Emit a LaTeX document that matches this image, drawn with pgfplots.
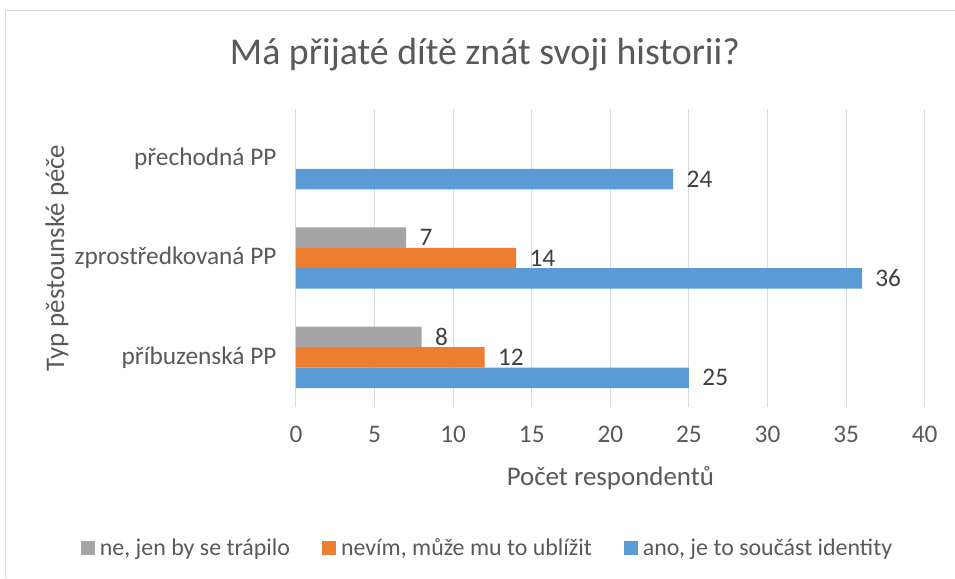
\documentclass[border=0pt]{standalone}
\usepackage{fontspec}
\setmainfont{Carlito}
\usepackage{pgfplots}
\pgfplotsset{compat=1.18}

\definecolor{cblue}{HTML}{5B9BD5}
\definecolor{corange}{HTML}{ED7D31}
\definecolor{cgray}{HTML}{A5A5A5}
\definecolor{gridgray}{HTML}{D9D9D9}
\definecolor{labgray}{HTML}{595959}
\definecolor{valgray}{HTML}{404040}

\begin{document}
\begin{tikzpicture}
\begin{axis}[
    scale only axis,
    width=628.7bp, height=298bp,
    xbar=0pt, bar width=0.206,
    xmin=0, xmax=40, ymin=-0.5, ymax=2.5,
    xtick={0,5,...,40},
    ytick={0,1,2},
    yticklabels={příbuzenská PP, zprostředkovaná PP, přechodná PP},
    xmajorgrids,
    grid style={draw=gridgray, line width=1bp},
    axis line style={draw=none},
    major tick length=0pt,
    tick label style={font=\fontsize{25.4}{28}\selectfont, text=labgray},
    /pgf/number format/assume math mode=true,
    xticklabel style={yshift=-16bp},
    yticklabel style={xshift=-16bp},
    clip=false,
    nodes near coords,
    nodes near coords style={anchor=west, xshift=10bp,
        font=\fontsize{25.4}{28}\selectfont, text=valgray},
    every axis plot/.append style={draw=none},
    legend image code/.code={\fill[#1] (0bp,-7bp) rectangle (14bp,7bp);},
    reverse legend,
    legend style={at={(axis description cs:0.307,-0.473)}, anchor=center,
        legend columns=3, draw=none, fill=none,
        font=\fontsize{24}{28}\selectfont, text=labgray,
        /tikz/every even column/.append style={column sep=27bp},
        nodes={inner xsep=5bp}},
]

% ano, je to součást identity
\addplot[fill=cblue] coordinates {(25,0) (36,1) (24,2)};
\addlegendentry{ano, je to součást identity}

% nevím, může mu to ublížit
\addplot[fill=corange] coordinates {(12,0) (14,1)};
\addlegendentry{nevím, může mu to ublížit}

% ne, jen by se trápilo
\addplot[fill=cgray] coordinates {(8,0) (7,1)};
\addlegendentry{ne, jen by se trápilo}

\node[font=\fontsize{38}{42}\selectfont, text=labgray]
    at (axis description cs:0.3006,1.181) {Má přijaté dítě znát svoji historii?};
\node[font=\fontsize{27}{30}\selectfont, text=labgray]
    at (axis description cs:0.5,-0.238) {Počet respondentů};
\node[font=\fontsize{27}{30}\selectfont, text=labgray, rotate=90]
    at (axis description cs:-0.380,0.5) {Typ pěstounské péče};

\draw[gridgray, line width=1.5bp]
    (axis description cs:-0.4617,-0.5738) -- (axis description cs:-0.4617,1.330)
    -- (axis description cs:1.0482,1.330);

\coordinate (bbA) at (axis description cs:-0.4708,-0.5738);
\coordinate (bbB) at (axis description cs:1.0482,1.3658);
\end{axis}
\pgfresetboundingbox
\path (bbA) rectangle (bbB);
\end{tikzpicture}
\end{document}
